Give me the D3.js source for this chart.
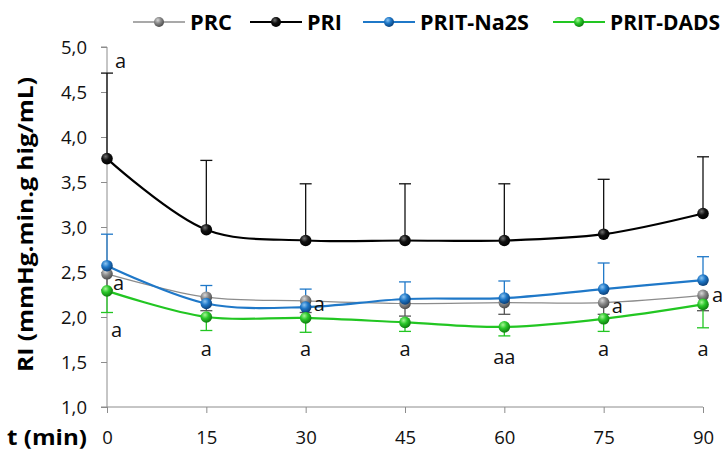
<!DOCTYPE html>
<html><head><meta charset="utf-8">
<script src="https://cdn.jsdelivr.net/npm/d3@7"></script>
<style>body{margin:0;background:#fff}svg{display:block}text{font-family:"Open Sans",Lato,sans-serif}</style>
</head><body><svg id="c" width="728" height="456"></svg>
<script>
const times = [0, 15, 30, 45, 60, 75, 90];
const yTicks = [1.0, 1.5, 2.0, 2.5, 3.0, 3.5, 4.0, 4.5, 5.0];
const prc = [2.48, 2.22, 2.18, 2.15, 2.16, 2.16, 2.24];
const prcLow = [2.30, 2.07, 2.05, 2.01, 2.03, 2.03, 2.07];
const pri = [3.76, 2.97, 2.85, 2.85, 2.85, 2.92, 3.15];
const priHigh = [4.71, 3.74, 3.48, 3.48, 3.48, 3.53, 3.78];
const na2s = [2.57, 2.15, 2.11, 2.20, 2.21, 2.31, 2.41];
const na2sHigh = [2.92, 2.35, 2.31, 2.39, 2.40, 2.60, 2.67];
const dads = [2.29, 2.00, 1.99, 1.94, 1.89, 1.98, 2.14];
const dadsLow = [2.05, 1.85, 1.83, 1.84, 1.79, 1.84, 1.88];
const seriesNames = ["PRC", "PRI", "PRIT-Na2S", "PRIT-DADS"];
// significance letters: [time, value position, text, dx]
const letters = [
  [0, 4.85, "a", 8], [0, 2.38, "a", 6], [0, 1.86, "a", 4],
  [30, 2.14, "a", 8], [75, 2.12, "a", 8], [90, 2.24, "a", 9],
  [15, 1.64, "a", 0], [30, 1.64, "a", 0], [45, 1.64, "a", 0],
  [60, 1.56, "aa", 0], [75, 1.64, "a", 0], [90, 1.64, "a", 0]
];

const svg = d3.select("#c");
const x = d3.scaleLinear().domain([0, 90]).range([107, 703]);
const y = d3.scaleLinear().domain([1, 5]).range([407, 47]);
const axisCol = "#8c8c8c";

const defs = svg.append("defs");
function ball(id, light, mid, dark) {
  const g = defs.append("radialGradient").attr("id", id)
    .attr("cx", "38%").attr("cy", "32%").attr("r", "70%");
  g.append("stop").attr("offset", "0%").attr("stop-color", light);
  g.append("stop").attr("offset", "45%").attr("stop-color", mid);
  g.append("stop").attr("offset", "100%").attr("stop-color", dark);
}
ball("gPRC", "#d8d8d8", "#8a8a8a", "#4a4a4a");
ball("gPRI", "#707070", "#111", "#000");
ball("gNa", "#8cc4f0", "#1f78c8", "#0a3f78");
ball("gDA", "#a8f598", "#2bc82b", "#0c7a0c");

// axes
const yAxis = d3.axisLeft(y).tickValues(yTicks).tickSize(6)
  .tickFormat(d => d3.format(".1f")(d).replace(".", ","));
const gy = svg.append("g").attr("transform", "translate(107,0)").call(yAxis);
gy.select(".domain").attr("stroke", axisCol).attr("d", "M-6,47H0V407H-6");
gy.selectAll(".tick line").attr("stroke", axisCol);
gy.selectAll(".tick text").attr("font-size", 18.5).attr("fill", "#111").attr("x", -20).attr("dy", "0.36em");

const xAxis = d3.axisBottom(x).tickValues(times).tickSize(6).tickFormat(d => d);
const gx = svg.append("g").attr("transform", "translate(0,407)").call(xAxis);
gx.select(".domain").attr("stroke", axisCol).attr("d", "M107,0H703");
gx.selectAll(".tick line").attr("stroke", axisCol);
gx.selectAll(".tick text").attr("font-size", 18.5).attr("fill", "#111").attr("y", 24);

svg.append("text").attr("transform", "translate(33,224.5) rotate(-90)")
  .attr("text-anchor", "middle").attr("font-size", 21.5).attr("font-weight", "bold")
  .attr("textLength", 295).attr("lengthAdjust", "spacingAndGlyphs")
  .text("RI (mmHg.min.g hig/mL)");
svg.append("text").attr("x", 7).attr("y", 445).attr("font-size", 21.5)
  .attr("font-weight", "bold").attr("textLength", 80).attr("lengthAdjust", "spacingAndGlyphs")
  .text("t (min)");

// error bars
function bars(vals, ends, col) {
  const g = svg.append("g").attr("stroke", col).attr("stroke-width", 1.3);
  times.forEach((t, i) => {
    g.append("line").attr("x1", x(t)).attr("x2", x(t)).attr("y1", y(vals[i])).attr("y2", y(ends[i]));
    g.append("line").attr("x1", x(t) - 6).attr("x2", x(t) + 6).attr("y1", y(ends[i])).attr("y2", y(ends[i]));
  });
}
bars(prc, prcLow, "#555");
bars(pri, priHigh, "#111");
bars(na2s, na2sHigh, "#1f78c8");
bars(dads, dadsLow, "#22c622");

const line = d3.line().x((d, i) => x(times[i])).y(d => y(d)).curve(d3.curveCatmullRom.alpha(0.5));
function series(vals, col, w, grad) {
  svg.append("path").datum(vals).attr("d", line).attr("fill", "none")
    .attr("stroke", col).attr("stroke-width", w);
  svg.append("g").selectAll("circle").data(vals).join("circle")
    .attr("cx", (d, i) => x(times[i])).attr("cy", d => y(d)).attr("r", 5.8)
    .attr("fill", `url(#${grad})`);
}
series(prc, "#8c8c8c", 1.2, "gPRC");
series(pri, "#000", 2.2, "gPRI");
series(na2s, "#1f78c8", 2.2, "gNa");
series(dads, "#22c622", 2.2, "gDA");

// letters
svg.append("g").selectAll("text").data(letters).join("text")
  .attr("x", d => x(d[0]) + d[3]).attr("y", d => y(d[1]))
  .attr("text-anchor", d => d[3] ? "start" : "middle").attr("dy", "0.35em")
  .attr("font-size", 20).attr("fill", "#111").text(d => d[2]);

// legend
const legCols = ["#8c8c8c", "#000", "#1f78c8", "#22c622"];
const legGrads = ["gPRC", "gPRI", "gNa", "gDA"];
const legX = [133, 250, 363, 553];
const legW = [42, 35, 109, 110];
const leg = svg.append("g");
seriesNames.forEach((n, i) => {
  const g = leg.append("g").attr("transform", `translate(${legX[i]},22)`);
  g.append("line").attr("x1", 0).attr("x2", 52).attr("stroke", legCols[i]).attr("stroke-width", i === 0 ? 1.3 : 2.2);
  g.append("circle").attr("cx", 26).attr("r", 5).attr("fill", `url(#${legGrads[i]})`);
  g.append("text").attr("x", 57).attr("dy", "0.36em").attr("font-size", 21)
    .attr("font-weight", "bold").attr("textLength", legW[i]).attr("lengthAdjust", "spacingAndGlyphs")
    .text(n);
});
</script></body></html>
